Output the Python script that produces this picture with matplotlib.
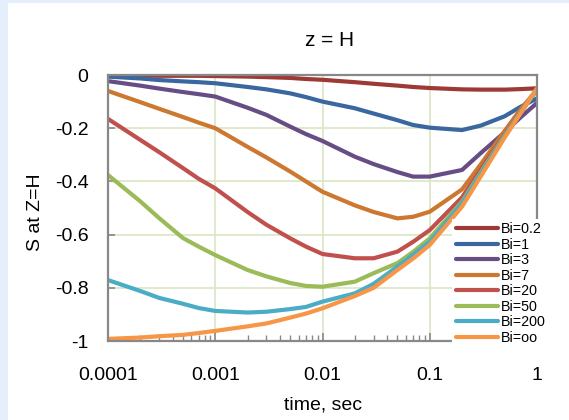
import numpy as np
import matplotlib
matplotlib.use("Agg")
import matplotlib.pyplot as plt
from matplotlib.ticker import FixedLocator, FixedFormatter, LogLocator, NullFormatter

plt.rcParams["font.family"] = ["Liberation Sans", "DejaVu Sans"]

# time points (s) and surface value S at Z=H for each Biot number
time = [1e-4, 2e-4, 3e-4, 5e-4, 7e-4, 1e-3, 2e-3, 3e-3, 5e-3, 7e-3,
        0.01, 0.02, 0.03, 0.05, 0.07, 0.1, 0.2, 0.3, 0.5, 0.7, 1.0]

s_bi_02 = [-0.002, -0.002, -0.003, -0.003, -0.003, -0.004, -0.006, -0.008, -0.011, -0.015,
           -0.018, -0.027, -0.033, -0.040, -0.045, -0.049, -0.054, -0.055, -0.055, -0.053, -0.050]
s_bi_1 = [-0.006, -0.013, -0.019, -0.024, -0.027, -0.031, -0.045, -0.054, -0.069, -0.083,
          -0.100, -0.125, -0.145, -0.170, -0.188, -0.198, -0.207, -0.190, -0.155, -0.120, -0.088]
s_bi_3 = [-0.023, -0.040, -0.051, -0.064, -0.072, -0.081, -0.123, -0.150, -0.194, -0.222,
          -0.248, -0.307, -0.335, -0.365, -0.382, -0.382, -0.357, -0.293, -0.215, -0.160, -0.105]
s_bi_7 = [-0.060, -0.102, -0.127, -0.158, -0.179, -0.200, -0.270, -0.310, -0.363, -0.400,
          -0.439, -0.490, -0.515, -0.539, -0.533, -0.514, -0.430, -0.335, -0.210, -0.130, -0.055]
s_bi_20 = [-0.165, -0.244, -0.290, -0.350, -0.390, -0.426, -0.515, -0.563, -0.614, -0.645,
           -0.673, -0.689, -0.689, -0.664, -0.627, -0.583, -0.460, -0.355, -0.225, -0.140, -0.055]
s_bi_50 = [-0.376, -0.475, -0.538, -0.613, -0.645, -0.677, -0.733, -0.757, -0.782, -0.793,
           -0.796, -0.777, -0.745, -0.707, -0.665, -0.614, -0.476, -0.365, -0.228, -0.142, -0.055]
s_bi_200 = [-0.771, -0.812, -0.838, -0.860, -0.876, -0.887, -0.893, -0.890, -0.880, -0.872,
            -0.852, -0.821, -0.785, -0.720, -0.675, -0.627, -0.482, -0.370, -0.230, -0.143, -0.052]
s_bi_inf = [-0.992, -0.987, -0.982, -0.977, -0.970, -0.962, -0.945, -0.934, -0.912, -0.897,
            -0.877, -0.831, -0.800, -0.733, -0.690, -0.639, -0.495, -0.380, -0.235, -0.145, -0.050]

labels = ["Bi=0.2", "Bi=1", "Bi=3", "Bi=7", "Bi=20", "Bi=50", "Bi=200", "Bi=oo"]
series = [s_bi_02, s_bi_1, s_bi_3, s_bi_7, s_bi_20, s_bi_50, s_bi_200, s_bi_inf]
colors = ["#9E3A36", "#3A679F", "#674D85", "#CC7830",
          "#C0504D", "#9BBB59", "#4BACC6", "#F79646"]

x_ticks = [1e-4, 1e-3, 1e-2, 1e-1, 1]
x_tick_labels = ["0.0001", "0.001", "0.01", "0.1", "1"]
y_ticks = [0, -0.2, -0.4, -0.6, -0.8, -1]
y_tick_labels = ["0", "-0.2", "-0.4", "-0.6", "-0.8", "-1"]

fig = plt.figure(figsize=(5.69, 4.20), dpi=100, facecolor="#E4EFFB")
# white chart area inside the light blue frame
fig.patches.append(plt.Rectangle((8 / 569, 0), 1, 1 - 3 / 420, transform=fig.transFigure,
                                 facecolor="white", edgecolor="none", zorder=-5))

ax = fig.add_axes([108 / 569, 1 - 341 / 420, (537 - 108) / 569, (341 - 75) / 420])
ax.set_zorder(2)
ax.set_facecolor("white")

for vals, lab, col in zip(series, labels, colors):
    ax.plot(time, vals, color=col, lw=3.0, label=lab, solid_capstyle="round")

ax.set_xscale("log")
ax.set_xlim(1e-4, 1)
ax.set_ylim(-1, 0)

ax.xaxis.set_major_locator(FixedLocator(x_ticks))
ax.xaxis.set_major_formatter(FixedFormatter(x_tick_labels))
ax.xaxis.set_minor_locator(LogLocator(base=10, subs=np.arange(2, 10)))
ax.xaxis.set_minor_formatter(NullFormatter())
ax.yaxis.set_major_locator(FixedLocator(y_ticks))
ax.yaxis.set_major_formatter(FixedFormatter(y_tick_labels))

ax.grid(True, which="major", color="#D9E6C3", lw=1.2)
ax.set_axisbelow(True)

for sp in ax.spines.values():
    sp.set_color("#888888")
    sp.set_linewidth(1.6)

ax.tick_params(axis="x", which="major", direction="in", length=6, width=1.2,
               color="#888888", labelsize=14, pad=18.5)
ax.tick_params(axis="x", which="minor", direction="in", length=4, width=1.0,
               color="#888888")
ax.tick_params(axis="y", which="major", direction="in", length=5, width=1.2,
               color="#888888", labelsize=14, pad=14)

fig.text(330 / 569, 1 - 40 / 420, "z = H", ha="center", va="center", fontsize=15)
fig.text(323 / 569, 1 - 405 / 420, "time, sec", ha="center", va="center", fontsize=14)
fig.text(35 / 569, 1 - 212 / 420, "S at Z=H", ha="center", va="center",
         rotation=90, fontsize=14)

leg = ax.legend(loc="center left", bbox_to_anchor=(452 / 569, 1 - 283.5 / 420),
                bbox_transform=fig.transFigure, frameon=True, fontsize=10.3,
                handlelength=3.0, handletextpad=0.2, labelspacing=0.1,
                borderpad=0.25, borderaxespad=0, fancybox=False)
leg.get_frame().set_edgecolor("none")
leg.get_frame().set_facecolor("white")
leg.get_frame().set_alpha(1)

fig.savefig("out.png", dpi=100, facecolor=fig.get_facecolor())
